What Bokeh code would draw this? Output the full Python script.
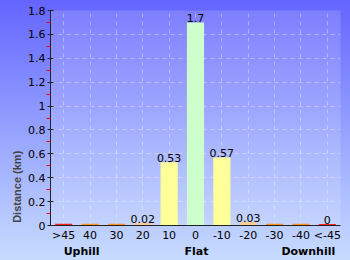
from bokeh.plotting import figure
from bokeh.models import ColumnDataSource, LabelSet, FixedTicker, LinearAxis
from bokeh.core.properties import value
from bokeh.embed import file_html
from bokeh.resources import INLINE

categories = [">45", "40", "30", "20", "10", "0", "-10", "-20", "-30", "-40", "<-45"]
values = [0.015, 0.015, 0.015, 0.02, 0.53, 1.7, 0.57, 0.03, 0.015, 0.015, 0.013]
labels = ["", "", "", "0.02", "0.53", "1.7", "0.57", "0.03", "", "", "0"]
colors = ["#ff2020", "#ff9020", "#ff9020", "#ffcc99", "#ffff99", "#ccffcc",
          "#ffff99", "#ffcc99", "#ff9020", "#ff9020", "#ff2020"]
group_names = ["Uphill", "Flat", "Downhill"]
group_pos = [0.68, 5.04, 9.28]

idx = list(range(len(categories)))
src = ColumnDataSource(dict(x=idx, cat=categories, val=values, lab=labels, col=colors))

p = figure(x_range=(-0.5, len(categories) - 0.5), y_range=(0, 1.8), width=350, height=260,
           output_backend="svg", toolbar_location=None,
           min_border_left=50, min_border_right=10, min_border_top=10,
           min_border_bottom=0)
p.styles = {"background": "linear-gradient(to bottom, #6464ff 0%, #9aa8ff 55%, #c8dcff 100%)"}
p.border_fill_alpha = 0
p.background_fill_color = "white"
p.background_fill_alpha = 0.15
p.outline_line_color = None

p.vbar(x="x", top="val", width=0.65, fill_color="col", line_color=None, source=src)
p.add_layout(LabelSet(x="x", y="val", text="lab", source=src, text_align="center",
                      text_baseline="bottom", y_offset=0, text_font=value("DejaVu Sans"),
                      text_font_size="11px", text_color="black"))

p.xaxis.ticker = FixedTicker(ticks=idx)
p.xaxis.major_label_overrides = {i: c for i, c in zip(idx, categories)}
p.xaxis.minor_tick_line_color = None

p.yaxis.ticker = FixedTicker(ticks=[0, 0.2, 0.4, 0.6, 0.8, 1.0, 1.2, 1.4, 1.6, 1.8],
                             minor_ticks=[0.1, 0.3, 0.5, 0.7, 0.9, 1.1, 1.3, 1.5, 1.7])
p.yaxis.major_label_overrides = {0: "0", 1.0: "1"}
# trailing no-break spaces push the title toward the bottom of the axis, as in the reference
p.yaxis.axis_label = "Distance (km)" + "\u00a0" * 45
p.yaxis.axis_label_text_font = "Liberation Sans"
p.yaxis.axis_label_text_font_style = "bold"
p.yaxis.axis_label_text_font_size = "11px"
p.yaxis.axis_label_standoff = 2
p.yaxis.major_label_standoff = 1
p.yaxis.minor_tick_line_color = "red"
p.yaxis.minor_tick_out = 4
p.yaxis.minor_tick_in = 0
p.yaxis.major_tick_in = 3
p.yaxis.major_tick_out = 3

for ax in (p.xaxis, p.yaxis):
    ax.axis_line_color = "#222222"
    ax.major_tick_line_color = "#222222"
    ax.major_label_text_font = "DejaVu Sans"
    ax.major_label_text_font_size = "11px"
    ax.major_label_text_color = "black"
p.xaxis.major_tick_out = 0
p.xaxis.major_tick_in = 0
p.xaxis.major_label_standoff = 3

gax = LinearAxis(ticker=FixedTicker(ticks=group_pos),
                 major_label_overrides={pos: name for pos, name in zip(group_pos, group_names)})
gax.axis_line_color = None
gax.major_tick_line_color = None
gax.minor_tick_line_color = None
gax.major_tick_out = 0
gax.major_label_standoff = 0
gax.major_label_text_font = "DejaVu Sans"
gax.major_label_text_font_style = "bold"
gax.major_label_text_font_size = "11px"
gax.major_label_text_color = "black"
p.add_layout(gax, "below")

p.grid.grid_line_color = "white"
p.grid.grid_line_alpha = 0.35
p.grid.grid_line_dash = "4 4"

open("out.html", "w").write(file_html(p, INLINE))
